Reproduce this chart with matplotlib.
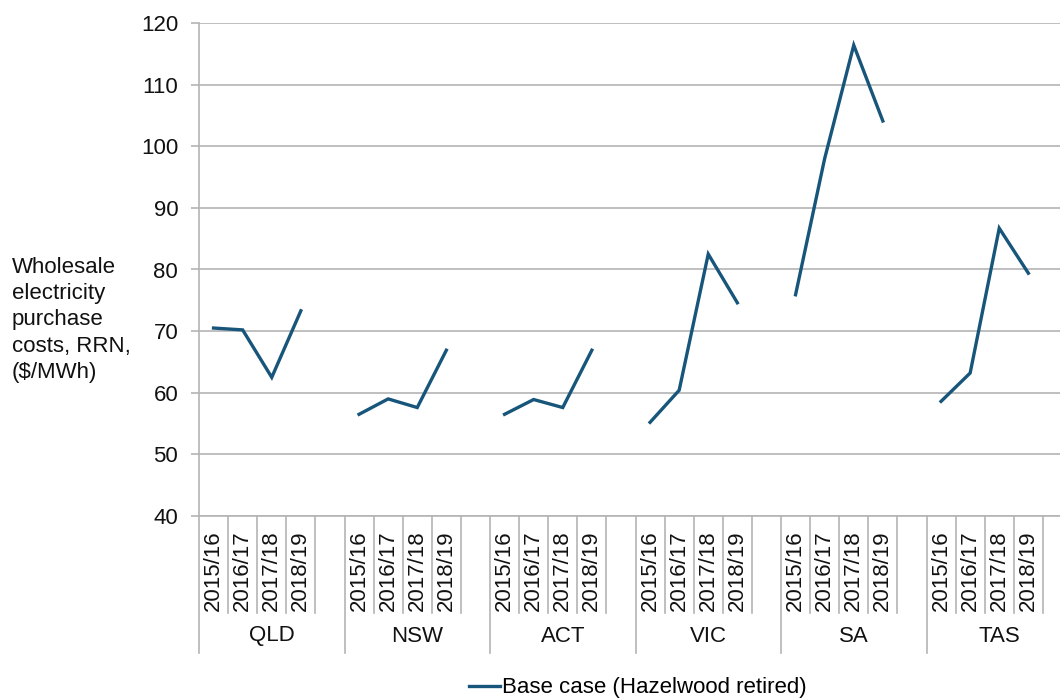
import numpy as np
import matplotlib
matplotlib.use('Agg')
import matplotlib.pyplot as plt

plt.rcParams['font.family'] = ['Liberation Sans', 'DejaVu Sans']

regions = ['QLD', 'NSW', 'ACT', 'VIC', 'SA', 'TAS']
years = ['2015/16', '2016/17', '2017/18', '2018/19']
qld = [70.5, 70.2, 62.5, 73.3]
nsw = [56.5, 59.0, 57.6, 66.9]
act = [56.5, 58.9, 57.6, 66.9]
vic = [55.2, 60.4, 82.5, 74.6]
sa = [75.9, 98.0, 116.4, 104.1]
tas = [58.6, 63.2, 86.7, 79.4]
series = [qld, nsw, act, vic, sa, tas]

line_col = '#17567a'
grid_col = '#b4b4b4'
fs = 16

# 5 slots per region, last one left blank
n_slot = 5
xs, ys = [], []
for g, vals in enumerate(series):
    for j, v in enumerate(vals):
        xs.append(g * n_slot + j)
        ys.append(v)
    xs.append(g * n_slot + len(vals))
    ys.append(np.nan)
xs = np.array(xs, dtype=float)
ys = np.array(ys)

fig = plt.figure(figsize=(10.6, 6.99), dpi=100)
ax = fig.add_axes([199/1060, 1 - 516/699, 873/1060, 493/699])

ax.plot(xs, ys, color=line_col, lw=2.4, solid_joinstyle='miter',
        label='Base case (Hazelwood retired)')

ax.set_ylim(40, 120)
ax.set_yticks(range(40, 121, 10))
ax.set_xlim(-0.5, len(regions) * n_slot - 0.5)
ax.set_xticks([])
ax.yaxis.grid(True, color=grid_col, lw=1.2)
ax.set_axisbelow(True)
ax.tick_params(axis='y', length=6, width=1.2, color=grid_col, labelsize=fs,
               pad=9, labelcolor='#111111')
for s in ['top', 'right']:
    ax.spines[s].set_visible(False)
for s in ['left', 'bottom']:
    ax.spines[s].set_color(grid_col)
    ax.spines[s].set_linewidth(1.2)

# multi-level category axis
tr = ax.get_xaxis_transform()
year_bot = -(613 - 516) / 493
grp_bot = -(653 - 516) / 493
for g, reg in enumerate(regions):
    for j in range(n_slot):
        x0 = g * n_slot + j - 0.5
        bot = grp_bot if j == 0 else year_bot
        ax.plot([x0, x0], [0, bot], color=grid_col, lw=1.2, transform=tr,
                clip_on=False)
        if j < len(years):
            ax.text(g * n_slot + j, -0.03, years[j], rotation=90, ha='center',
                    va='top', fontsize=fs, transform=tr, color='#111111')
    ax.text(g * n_slot + 2, -(636 - 516) / 493, reg, ha='center', va='center',
            fontsize=fs, transform=tr, color='#111111')

fig.text(12/1060, 1 - 320/699,
         'Wholesale\nelectricity\npurchase\ncosts, RRN,\n($/MWh)',
         ha='left', va='center', fontsize=fs, linespacing=1.32, color='#111111')

fig.legend(loc='center', bbox_to_anchor=(0.602, 1 - 688/699), frameon=False,
           fontsize=fs, handlelength=1.4, handletextpad=0.1)

fig.savefig('out.png', dpi=100)
